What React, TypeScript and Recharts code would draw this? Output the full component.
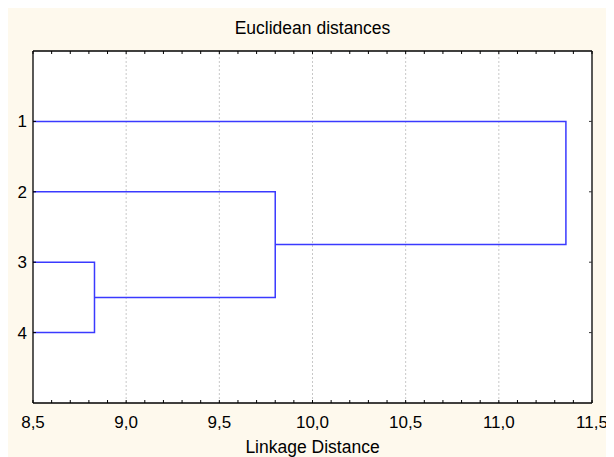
import React from 'react';
import { ComposedChart, Line, XAxis, YAxis, CartesianGrid, ReferenceLine } from 'recharts';

// ---- data ----
const leafLabels = ['1', '2', '3', '4'];
const leafPositions = [1, 2, 3, 4];
// merges: [member A, member B] joined at linkage distance
const mergeA = ['3', '2', '1'];
const mergeB = ['4', 'n1', 'n2'];
const mergeNames = ['n1', 'n2', 'n3'];
const mergeHeights = [8.83, 9.8, 11.36];

const xMin = 8.5;
const xMax = 11.5;
const majorTicks = [8.5, 9.0, 9.5, 10.0, 10.5, 11.0, 11.5];
const xTickLabels = ['8,5', '9,0', '9,5', '10,0', '10,5', '11,0', '11,5'];
const minorTicks = Array.from({ length: 31 }, (_, i) => +(xMin + i * 0.1).toFixed(1));

// ---- build link paths ----
type Node = { pos: number; h: number };
const nodes: Record<string, Node> = {};
leafLabels.forEach((l, i) => (nodes[l] = { pos: leafPositions[i], h: xMin }));
const links: { x: number; y: number }[][] = mergeHeights.map((h, i) => {
  const a = nodes[mergeA[i]];
  const b = nodes[mergeB[i]];
  nodes[mergeNames[i]] = { pos: (a.pos + b.pos) / 2, h };
  return [
    { x: a.h, y: a.pos },
    { x: h, y: a.pos },
    { x: h, y: b.pos },
    { x: b.h, y: b.pos },
  ];
});

const FONT = '"Liberation Sans", Arial, sans-serif';
const LINE_COLOR = '#3a3aff';

const isMajor = (v: number) => majorTicks.findIndex((m) => Math.abs(m - v) < 1e-6);

const BottomTick = (p: any) => {
  const v = p.payload.value;
  const idx = isMajor(v);
  return (
    <g>
      <line x1={p.x} x2={p.x} y1={p.y} y2={p.y - 3} stroke="#000" strokeWidth={1} />
      {idx >= 0 && (
        <text x={p.x} y={p.y + 24.5} textAnchor="middle" fontSize={17} fill="#000" fontFamily={FONT}>
          {xTickLabels[idx]}
        </text>
      )}
    </g>
  );
};

const TopTick = (p: any) => (
  <line x1={p.x} x2={p.x} y1={p.y} y2={p.y + 3} stroke="#000" strokeWidth={1} />
);

const LeftTick = (p: any) => {
  const idx = leafPositions.indexOf(p.payload.value);
  return (
    <g>
      <line x1={p.x} x2={p.x + 3} y1={p.y} y2={p.y} stroke="#000" strokeWidth={1} />
      <text x={p.x - 6} y={p.y} dy="0.355em" textAnchor="end" fontSize={17} fill="#000" fontFamily={FONT}>
        {leafLabels[idx]}
      </text>
    </g>
  );
};

const RightTick = (p: any) => (
  <line x1={p.x} x2={p.x - 3} y1={p.y} y2={p.y} stroke="#333" strokeWidth={1} />
);

export default function App() {
  return (
    <div style={{ width: 606, height: 449, background: '#fef9ed', fontFamily: FONT }}>
      <ComposedChart width={606} height={449} margin={{ top: 42, right: 21, bottom: 24, left: 0 }}>
        <CartesianGrid
          xAxisId="bottom"
          yAxisId="left"
          horizontal={false}
          vertical={false}
          fill="#ffffff"
          fillOpacity={1}
          stroke="none"
        />
        <XAxis
          xAxisId="bottom"
          orientation="bottom"
          type="number"
          dataKey="x"
          domain={[xMin, xMax]}
          ticks={minorTicks}
          interval={0}
          height={30}
          tickSize={0}
          tickMargin={0}
          tick={BottomTick}
          axisLine={{ stroke: '#000', strokeWidth: 1.3 }}
          allowDataOverflow
          label={{ value: 'Linkage Distance', position: 'bottom', offset: 8, fill: '#000', fontSize: 17.5, fontFamily: FONT }}
        />
        <XAxis
          xAxisId="top"
          orientation="top"
          type="number"
          dataKey="x"
          domain={[xMin, xMax]}
          ticks={minorTicks}
          interval={0}
          height={1}
          tickSize={0}
          tickMargin={0}
          tick={TopTick}
          axisLine={{ stroke: '#000', strokeWidth: 1.3 }}
          allowDataOverflow
          label={{ value: 'Euclidean distances', position: 'top', offset: 16, fill: '#000', fontSize: 17.5, fontFamily: FONT }}
        />
        <YAxis
          yAxisId="left"
          orientation="left"
          type="number"
          dataKey="y"
          domain={[0, 5]}
          reversed
          ticks={leafPositions}
          interval={0}
          width={25}
          tickSize={0}
          tickMargin={0}
          tick={LeftTick}
          axisLine={{ stroke: '#000', strokeWidth: 1.3 }}
          allowDataOverflow
        />
        <YAxis
          yAxisId="right"
          orientation="right"
          type="number"
          dataKey="y"
          domain={[0, 5]}
          reversed
          ticks={leafPositions}
          interval={0}
          width={1}
          tickSize={0}
          tickMargin={0}
          tick={RightTick}
          axisLine={{ stroke: '#222', strokeWidth: 1.5 }}
          allowDataOverflow
        />
        {majorTicks.slice(1, -1).map((v) => (
          <ReferenceLine
            key={v}
            x={v}
            xAxisId="bottom"
            yAxisId="left"
            stroke="#c8c8c8"
            strokeDasharray="2 2"
            strokeWidth={1}
          />
        ))}
        {links.map((pts, i) => (
          <Line
            key={i}
            data={pts}
            dataKey="y"
            xAxisId="bottom"
            yAxisId="left"
            type="linear"
            stroke={LINE_COLOR}
            strokeWidth={1.5}
            dot={false}
            activeDot={false}
            isAnimationActive={false}
          />
        ))}
      </ComposedChart>
    </div>
  );
}
